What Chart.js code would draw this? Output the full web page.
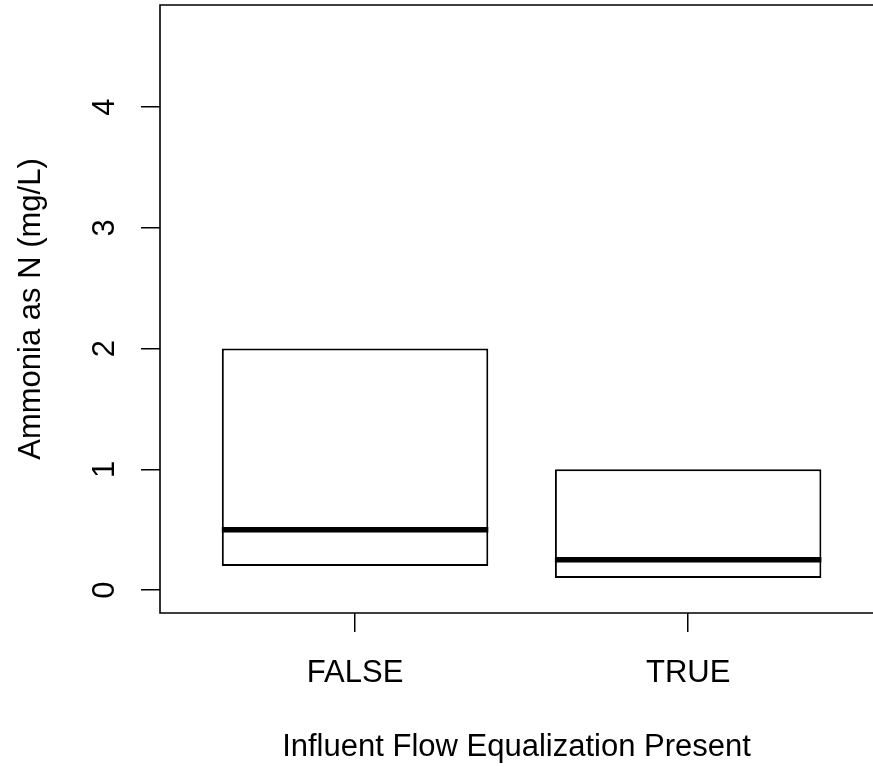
<!DOCTYPE html>
<html>
<head>
<meta charset="utf-8">
<script src="https://cdn.jsdelivr.net/npm/chart.js@4"></script>
<style>
  html, body { margin: 0; padding: 0; background: #fff; overflow: hidden; }
  canvas { display: block; }
</style>
</head>
<body>
<canvas id="box" width="873" height="767"></canvas>
<script>
// データ（箱ひげ図の読み取り値）
const groups = ["FALSE", "TRUE"];
const groupPos = [1, 2];
const lowerQ = [0.2, 0.1];
const medians = [0.5, 0.25];
const upperQ = [2.0, 1.0];
const yTicks = [0, 1, 2, 3, 4];

Chart.defaults.font.family = "'Liberation Sans', Arial, Helvetica, sans-serif";
Chart.defaults.color = "#000";

// 枠線と中央値の線を描く
const boxExtras = {
  id: "boxExtras",
  afterDatasetsDraw(chart) {
    const ctx = chart.ctx;
    const y = chart.scales.y;
    const meta = chart.getDatasetMeta(0);
    ctx.save();
    ctx.strokeStyle = "#000";
    ctx.lineWidth = 5.5;
    ctx.lineCap = "butt";
    meta.data.forEach((bar, i) => {
      const py = y.getPixelForValue(medians[i]);
      ctx.beginPath();
      ctx.moveTo(bar.x - bar.width / 2, py);
      ctx.lineTo(bar.x + bar.width / 2, py);
      ctx.stroke();
    });
    const a = chart.chartArea;
    ctx.lineWidth = 1.6;
    ctx.beginPath();
    ctx.moveTo(a.right + 20, a.top);
    ctx.lineTo(a.left, a.top);
    ctx.lineTo(a.left, a.bottom);
    ctx.lineTo(a.right + 20, a.bottom);
    ctx.stroke();
    ctx.restore();
  }
};

function noPad(s) {
  s.paddingTop = 0;
  s.paddingBottom = 0;
  s.paddingLeft = 0;
  s.paddingRight = 0;
}

new Chart(document.getElementById("box"), {
  type: "bar",
  data: {
    datasets: [{
      data: groupPos.map((x, i) => ({ x: x, y: [lowerQ[i], upperQ[i]] })),
      backgroundColor: "#fff",
      borderColor: "#000",
      borderWidth: 2,
      borderSkipped: false,
      barPercentage: 0.8,
      categoryPercentage: 1
    }]
  },
  options: {
    responsive: false,
    devicePixelRatio: 1,
    animation: false,
    events: [],
    layout: { padding: { top: 5, left: 0, right: 0, bottom: 0 } },
    plugins: { legend: { display: false }, tooltip: { enabled: false } },
    scales: {
      x: {
        type: "linear",
        min: 0.4144,
        max: 2.555,
        offset: false,
        afterBuildTicks: s => { s.ticks = groupPos.map(v => ({ value: v })); },
        afterFit: s => { s.height = 154; noPad(s); },
        ticks: {
          font: { size: 31 },
          padding: 23,
          autoSkip: false,
          maxRotation: 0,
          callback: (v) => groups[groupPos.indexOf(v)]
        },
        grid: { offset: false, drawOnChartArea: false, tickLength: 19, color: "#000", lineWidth: 1.5 },
        border: { display: false },
        title: {
          display: true,
          text: "Influent Flow Equalization Present",
          font: { size: 31 },
          padding: { top: 0, bottom: 1 }
        }
      },
      y: {
        min: -0.19,
        max: 4.845,
        afterBuildTicks: s => { s.ticks = yTicks.map(v => ({ value: v })); },
        afterFit: s => { s.width = 160; noPad(s); },
        ticks: {
          font: { size: 31 },
          padding: 27,
          minRotation: 90,
          maxRotation: 90,
          crossAlign: "center",
          autoSkip: false
        },
        grid: { drawOnChartArea: false, tickLength: 19, color: "#000", lineWidth: 1.5 },
        border: { display: false },
        title: {
          display: true,
          text: "Ammonia as N (mg/L)",
          font: { size: 31 },
          padding: { top: 13, bottom: 0 }
        }
      }
    }
  },
  plugins: [boxExtras]
});
</script>
</body>
</html>
